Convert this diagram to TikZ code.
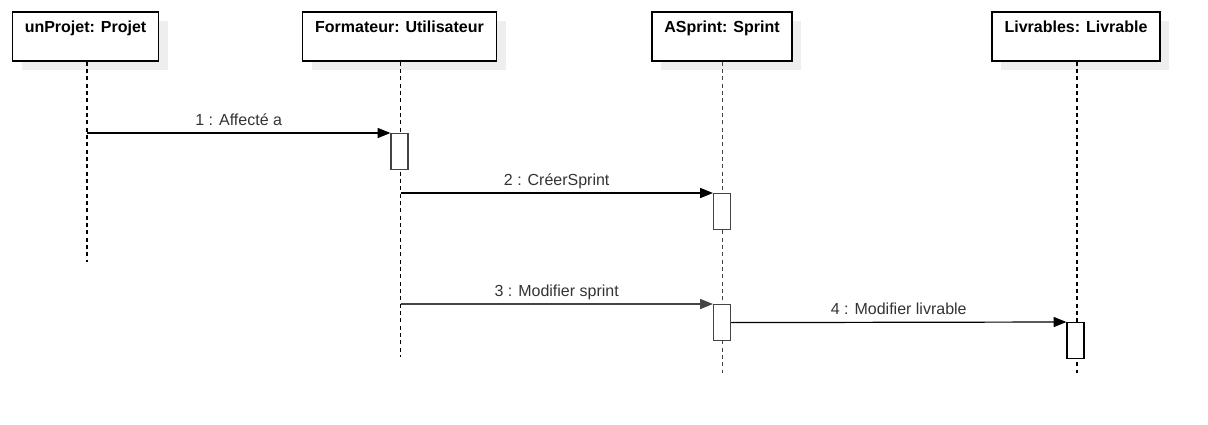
\documentclass[tikz,border=0pt]{standalone}
\usepackage{fontspec}
\setmainfont{Liberation Sans}
\usetikzlibrary{arrows.meta,shadows}
\definecolor{shade}{HTML}{EEEEEE}
\definecolor{lbl}{HTML}{333333}
\definecolor{actgray}{HTML}{444444}
\begin{document}
\begin{tikzpicture}[x=0.75pt,y=-0.75pt,
  objbox/.style={draw=black, line width=0.9pt, fill=white,
    minimum width=#1, minimum height=36.75pt, inner sep=0pt,
    general shadow={shadow xshift=6.75pt, shadow yshift=-6.75pt, fill=shade, draw=none, opacity=1}},
  title/.style={font=\bfseries\fontsize{12}{14}\selectfont, text=black, anchor=base, yshift=-16pt},
  lifeline/.style={draw=black, line width=0.9pt, dash pattern=on 3pt off 2.5pt},
  activation/.style={draw=#1, line width=0.9pt, fill=white, minimum width=12.75pt,
    minimum height=27pt, inner sep=0pt, anchor=north},
  msg/.style={draw=black, line width=0.9pt, -{Triangle[length=9.5pt,width=7.5pt]}},
  msglabel/.style={font=\fontsize{12}{14}\selectfont, text=lbl, anchor=base, yshift=6pt}
]
\useasboundingbox (0,0) rectangle (1208,425);

% object boxes
\node[objbox=109.5pt, label={[title]north:unProjet: Projet}] (b1) at (85.5,36.5) {};
\node[objbox=145.5pt, label={[title]north:Formateur: Utilisateur}] (b2) at (399.5,36.5) {};
\node[objbox=105pt, label={[title]north:ASprint: Sprint}] (b3) at (722,36.5) {};
\node[objbox=126pt, label={[title]north:Livrables: Livrable}] (b4) at (1076,36.5) {};

% lifeline ends
\coordinate (e1) at (87,262);
\coordinate (e2) at (400.5,357);
\coordinate (e3) at (722.5,373);
\coordinate (e4) at (1077,373);

\draw[lifeline] (b1.south -| e1) -- (e1);
\draw[lifeline] (b2.south -| e2) -- (e2);
\draw[lifeline, draw=actgray] (b3.south -| e3) -- (e3);
\draw[lifeline] (b4.south -| e4) -- (e4);

% activations
\node[activation=actgray] (a1) at (399.5,133) {};
\node[activation=actgray] (a2) at (722,193) {};
\node[activation=actgray] (a3) at (722,304) {};
\node[activation=black] (a4) at (1075.5,322) {};

% message start points on lifelines
\coordinate (m1) at (87,133);
\coordinate (m2) at (400.5,193);
\coordinate (m3) at (400.5,304);

\draw[msg] (m1) -- node[msglabel]{1 : Affecté a} (a1.north west);
\draw[msg] (m2) -- node[msglabel]{2 : CréerSprint} (a2.north west);
\draw[msg, draw=actgray] (m3) -- node[msglabel]{3 : Modifier sprint} (a3.north west);
\draw[msg] (a3.east) -- node[msglabel]{4 : Modifier livrable} (a4.north west);
\end{tikzpicture}
\end{document}
